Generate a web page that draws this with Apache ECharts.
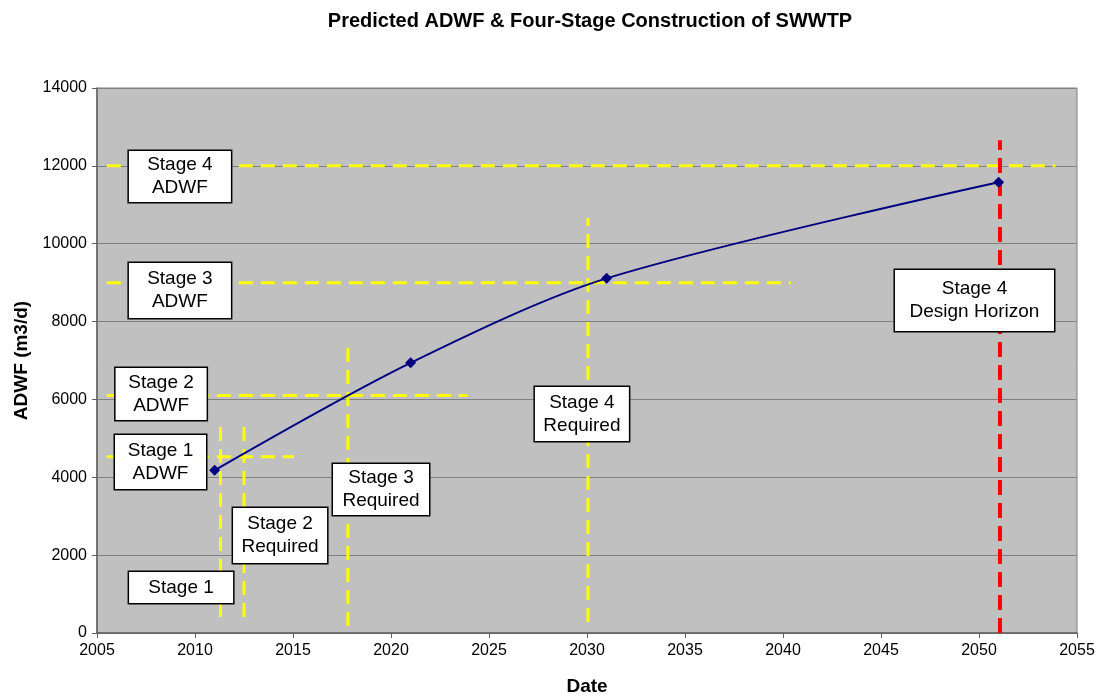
<!DOCTYPE html>
<html>
<head>
<meta charset="utf-8">
<script src="https://cdn.jsdelivr.net/npm/echarts@6/dist/echarts.min.js"></script>
<style>
  html, body { margin: 0; padding: 0; background: #ffffff; }
  #chart { width: 1099px; height: 697px; }
</style>
</head>
<body>
<div id="chart"></div>
<script>
// Predicted average dry weather flow (m3/d)
const years = [2011, 2021, 2031, 2051];
const adwf = [4180, 6940, 9110, 11580];

// Stage capacity levels (horizontal guides): [value, startYear, endYear]
const capacityLevels = [
  [12000, 2005.5, 2053.9],
  [9000, 2005.5, 2040.4],
  [6100, 2005.5, 2023.9],
  [4530, 2005.5, 2015.05]
];

// Stage timing markers (vertical guides): [year, fromValue, toValue]
const stageTimes = [
  [2011.3, 410, 5470],
  [2012.5, 410, 5470],
  [2017.8, 180, 7400],
  [2030.05, 280, 10660]
];
const designHorizon = [2051.07, 0, 12660];

// Annotation boxes: text and anchor (year, value)
const notes = [
  { text: 'Stage 4\nADWF', at: [2009.23, 11727], w: 104, h: 53 },
  { text: 'Stage 3\nADWF', at: [2009.23, 8798], w: 104, h: 57 },
  { text: 'Stage 2\nADWF', at: [2008.27, 6139], w: 93, h: 54 },
  { text: 'Stage 1\nADWF', at: [2008.24, 4393], w: 93, h: 56 },
  { text: 'Stage 1', at: [2009.29, 1169], w: 106, h: 33 },
  { text: 'Stage 2\nRequired', at: [2014.34, 2505], w: 96, h: 57 },
  { text: 'Stage 3\nRequired', at: [2019.49, 3686], w: 98, h: 53 },
  { text: 'Stage 4\nRequired', at: [2029.74, 5626], w: 96, h: 56 },
  { text: 'Stage 4\nDesign Horizon', at: [2049.77, 8541], w: 161, h: 63 }
];

const FONT = '"Liberation Sans", Arial, sans-serif';
const yellowDash = { color: '#ffff00', width: 3, type: [14, 8] };

const series = [];

capacityLevels.forEach(([v, a, b]) => {
  series.push({
    type: 'line', data: [[a, v], [b, v]], symbol: 'none', silent: true,
    lineStyle: yellowDash, z: 3
  });
});
stageTimes.forEach(([yr, a, b]) => {
  series.push({
    type: 'line', data: [[yr, a], [yr, b]], symbol: 'none', silent: true,
    lineStyle: yellowDash, z: 3
  });
});
series.push({
  type: 'line', data: [[designHorizon[0], designHorizon[1]], [designHorizon[0], designHorizon[2]]],
  symbol: 'none', silent: true,
  lineStyle: { color: '#ff0000', width: 4, type: [15, 8] }, z: 3
});

// Flow projection
series.push({
  type: 'line',
  data: years.map((y, i) => [y, adwf[i]]),
  smooth: 0.3,
  symbol: 'diamond', symbolSize: 11,
  itemStyle: { color: '#000080' },
  lineStyle: { color: '#000080', width: 2 },
  z: 5
});

// Annotation boxes
series.push({
  type: 'scatter',
  symbolSize: 0,
  silent: true,
  z: 10,
  zlevel: 1,
  itemStyle: { opacity: 1 },
  data: notes.map(n => ({
    value: n.at,
    label: {
      show: true,
      position: 'inside',
      formatter: n.text,
      width: n.w - 2,
      height: n.h - 2,
      backgroundColor: '#ffffff',
      borderColor: '#000000',
      borderWidth: 1.5,
      color: '#000000',
      opacity: 1,
      fontFamily: FONT,
      fontSize: 19,
      lineHeight: 23,
      align: 'center',
      verticalAlign: 'middle'
    }
  }))
});

const chart = echarts.init(document.getElementById('chart'), null, { renderer: 'canvas' });
chart.setOption({
  animation: false,
  backgroundColor: '#ffffff',
  title: {
    text: 'Predicted ADWF & Four-Stage Construction of SWWTP',
    left: 585, top: 6, textAlign: 'center',
    textStyle: { fontFamily: FONT, fontSize: 20, fontWeight: 'bold', color: '#000' }
  },
  grid: {
    left: 97, right: 22, top: 88, bottom: 64,
    outerBoundsMode: 'none',
    containLabel: false,
    show: true, backgroundColor: '#c0c0c0', borderColor: '#808080', borderWidth: 1
  },
  xAxis: {
    type: 'value', min: 2005, max: 2055, interval: 5,
    name: 'Date', nameLocation: 'middle', nameGap: 44,
    nameTextStyle: { fontFamily: FONT, fontSize: 19, fontWeight: 'bold', color: '#000' },
    axisLine: { show: true, lineStyle: { color: '#606060', width: 1.5 } },
    axisTick: { show: true, length: 5, lineStyle: { color: '#606060' } },
    axisLabel: { fontFamily: FONT, fontSize: 16, color: '#000', margin: 10, formatter: v => String(v) },
    splitLine: { show: false }
  },
  yAxis: {
    type: 'value', min: 0, max: 14000, interval: 2000,
    name: 'ADWF (m3/d)', nameLocation: 'middle', nameGap: 65, nameRotate: 90,
    nameTextStyle: { fontFamily: FONT, fontSize: 19, fontWeight: 'bold', color: '#000' },
    axisLine: { show: true, lineStyle: { color: '#606060', width: 1.5 } },
    axisTick: { show: true, length: 5, lineStyle: { color: '#606060' } },
    axisLabel: { fontFamily: FONT, fontSize: 16, color: '#000', margin: 10, formatter: v => String(v) },
    splitLine: { show: true, lineStyle: { color: '#808080', width: 1 } }
  },
  series: series
});
</script>
</body>
</html>
